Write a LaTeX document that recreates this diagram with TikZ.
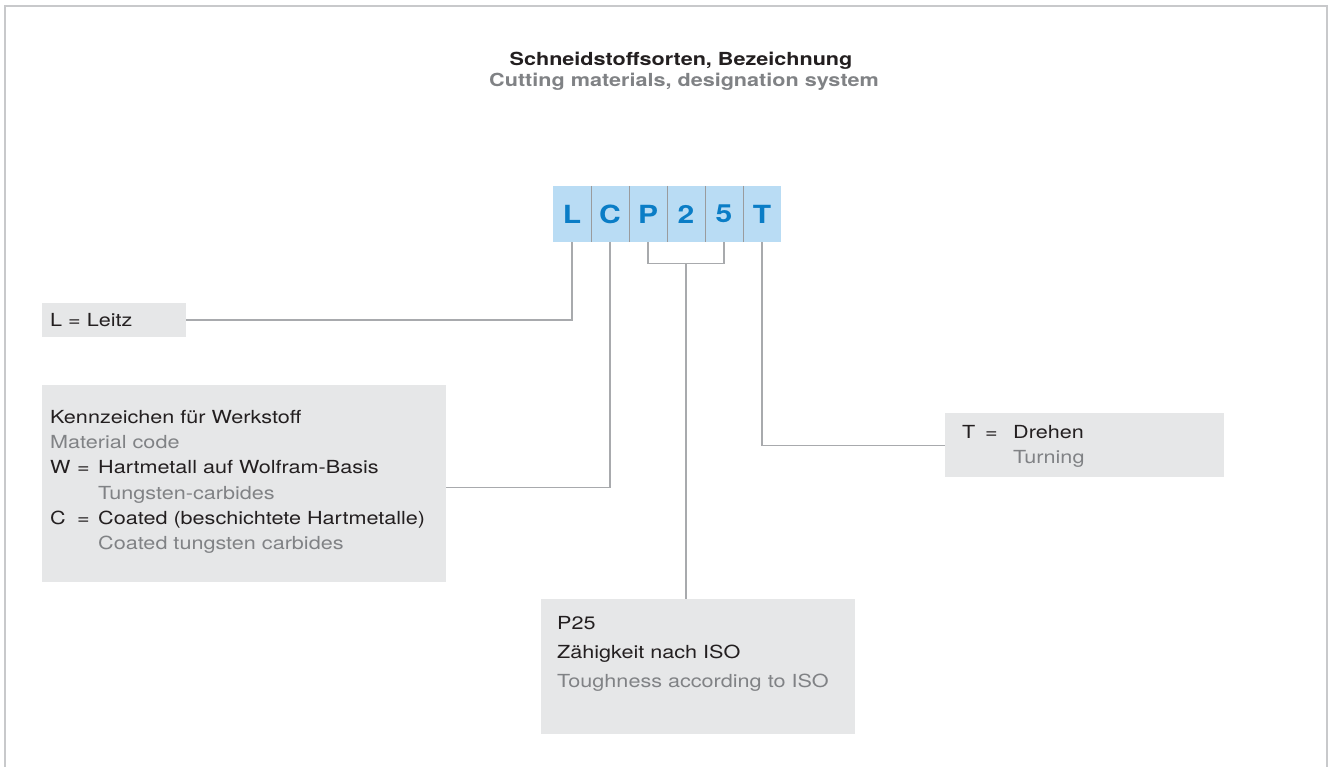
\documentclass[tikz,border=0pt]{standalone}
\usepackage{fontspec}
\setmainfont{TeX Gyre Heros}[FakeStretch=1.2]
\usepackage{tikz}
\usetikzlibrary{positioning}

\definecolor{framegray}{HTML}{C8C9CB}
\definecolor{linegray}{HTML}{A8AAAD}
\definecolor{sepgray}{HTML}{9A9B9D}
\definecolor{boxgray}{HTML}{E6E7E8}
\definecolor{codeblue}{HTML}{B9DCF4}
\definecolor{codetext}{HTML}{0A7DC6}
\definecolor{bodytext}{HTML}{231F20}
\definecolor{graytext}{HTML}{808285}

\newcommand{\infotext}[3]{\parbox[t][#1][t]{#2}{\raggedright #3}}
\newcommand{\gr}[1]{\textcolor{graytext}{#1}}

\tikzset{
  link/.style={draw=linegray, line width=1.3pt},
  sepline/.style={draw=sepgray, line width=1.2pt},
  infobox/.style={fill=boxgray, text=bodytext, inner xsep=8pt,
    font={\fontsize{18}{25.3}\selectfont}},
  codecell/.style={fill=codeblue, text=codetext, inner sep=0pt,
    minimum width=38pt, minimum height=56pt,
    font={\fontsize{25}{25}\selectfont\bfseries}},
}

\begin{document}
\begin{tikzpicture}[x=1pt,y=-1pt]
  \useasboundingbox (0,0) rectangle (1331,767);
  % frame
  \draw[draw=framegray, line width=1.5pt] (5,767) -- (5,6) -- (1327,6) -- (1327,767);

  % heading
  \node[anchor=base, text=bodytext, font={\fontsize{18}{22}\selectfont\bfseries}]
    (title) at (681,66) {Schneidstoffsorten, Bezeichnung};
  \node[anchor=base, text=graytext, font={\fontsize{18}{22}\selectfont\bfseries}]
    (subtitle) at (684,87) {Cutting materials, designation system};

  % designation code L C P 2 5 T
  \foreach \ch [count=\i] in {L,C,P,2,5,T}
    \node[codecell] (cell\ch) at ({572+38*(\i-1)},214) {\ch};
  \foreach \a in {L,C,P,2,5}
    \draw[sepline] (cell\a.north east) -- (cell\a.south east);

  % explanation boxes
  \node[infobox, minimum height=34pt, text width=128pt, anchor=west]
    (leitz) at (42,320) {L = Leitz};
  \node[infobox, inner ysep=25pt, anchor=north west] (werk) at (42,385)
    {\infotext{147pt}{388pt}{Kennzeichen für Werkstoff\\
      \gr{Material code}\\
      \makebox[27pt][l]{W}\makebox[21pt][l]{=}Hartmetall auf Wolfram-Basis\\
      \hspace*{48pt}\gr{Tungsten-carbides}\\
      \makebox[27pt][l]{C}\makebox[21pt][l]{=}Coated (beschichtete Hartmetalle)\\
      \hspace*{48pt}\gr{Coated tungsten carbides}}};
  \node[infobox, inner xsep=17pt, inner ysep=12pt, anchor=north west] (turn) at (945,413)
    {\infotext{40pt}{245pt}{\makebox[23pt][l]{T}\makebox[28pt][l]{=}Drehen\\
      \hspace*{51pt}\gr{Turning}}};
  \node[infobox, inner xsep=16pt, inner ysep=17pt, anchor=north west,
    font={\fontsize{18}{29}\selectfont}] (iso) at (541,599)
    {\infotext{101pt}{282pt}{P25\\
      Zähigkeit nach ISO\\
      \gr{Toughness according to ISO}}};

  % connectors
  \coordinate (brk) at ([yshift=-21pt]cell2.south);
  \draw[link] (cellL.south) |- (leitz.east);
  \draw[link] (cellC.south) |- ([yshift=-4pt]werk.east);
  \draw[link] (cellP.south) |- (brk) -| (cell5.south);
  \draw[link] (brk) -- (brk |- iso.north);
  \draw[link] (cellT.south) |- (turn.west);
\end{tikzpicture}
\end{document}
